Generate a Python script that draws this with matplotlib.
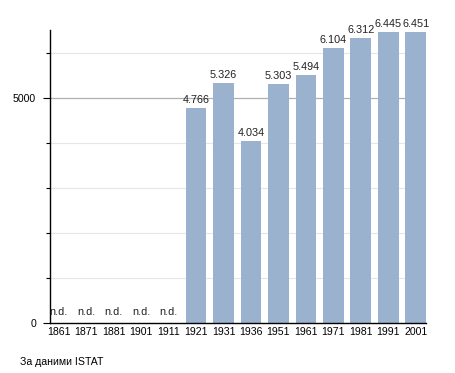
import matplotlib
matplotlib.use("Agg")
import matplotlib.pyplot as plt
from matplotlib.ticker import FixedLocator

years = ["1861", "1871", "1881", "1901", "1911", "1921", "1931", "1936",
         "1951", "1961", "1971", "1981", "1991", "2001"]
values = [None, None, None, None, None, 4766, 5326, 4034,
          5303, 5494, 6104, 6312, 6445, 6451]
labels = ["n.d.", "n.d.", "n.d.", "n.d.", "n.d.", "4.766", "5.326", "4.034",
          "5.303", "5.494", "6.104", "6.312", "6.445", "6.451"]
source = "За даними ISTAT"

plt.rcParams['font.family'] = ['Liberation Sans', 'DejaVu Sans']

fig = plt.figure(figsize=(4.55, 3.73), dpi=100)
ax = fig.add_axes([50/455, 50/373, 376/455, 293/373])

x = list(range(len(years)))
heights = [v if v is not None else 0 for v in values]
ax.bar(x, heights, width=0.75, color="#9bb2cf", zorder=2)

for xi, v, lab in zip(x, values, labels):
    if v is None:
        ax.text(xi, 130, lab, ha="center", va="bottom", fontsize=7.8, color="#222222", zorder=3)
    else:
        ax.text(xi, v + 70, lab, ha="center", va="bottom", fontsize=7.8, color="#222222", zorder=3)

ax.set_xlim(-0.32, len(years) - 1 + 0.375)
ax.set_ylim(0, 6500)

ax.set_xticks(x)
ax.set_xticklabels(years, fontsize=7.6)
ax.tick_params(axis="x", length=0, pad=3)

ax.yaxis.set_major_locator(FixedLocator([0, 5000]))
ax.yaxis.set_minor_locator(FixedLocator([1000, 2000, 3000, 4000, 6000]))
ax.tick_params(axis="y", which="major", length=5, width=0.8, labelsize=7.6, pad=5)
ax.tick_params(axis="y", which="minor", length=3, width=0.8)

for g in [1000, 2000, 3000, 4000, 6000]:
    ax.axhline(g, color="#e6e6e6", lw=0.8, zorder=1)
ax.axhline(5000, color="#b0b0b0", lw=0.9, zorder=1)

for s in ["top", "right"]:
    ax.spines[s].set_visible(False)
ax.spines["left"].set_linewidth(1.0)
ax.spines["bottom"].set_linewidth(1.0)

fig.text(20/455, 1 - 362/373, source, fontsize=7.6, va="center", ha="left")

fig.savefig("out.png", dpi=100)
